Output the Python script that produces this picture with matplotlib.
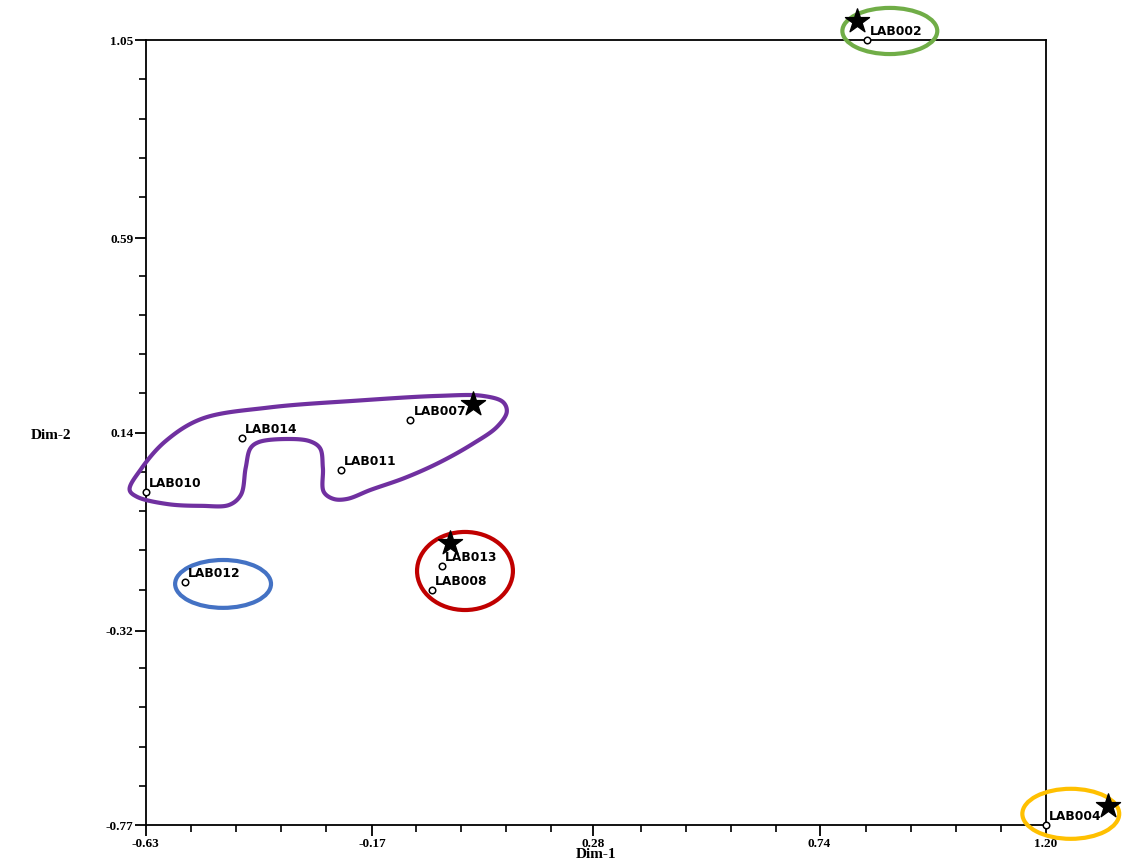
import numpy as np
import matplotlib
matplotlib.use("Agg")
import matplotlib.pyplot as plt
from matplotlib.patches import Ellipse, Polygon
from matplotlib.ticker import FixedLocator

# Sample coordinates on the first two dimensions
labels = ["LAB002", "LAB004", "LAB007", "LAB014", "LAB011", "LAB010",
          "LAB013", "LAB008", "LAB012"]
dim1 = [0.836, 1.200, -0.093, -0.435, -0.234, -0.630, -0.028, -0.049, -0.551]
dim2 = [1.050, -0.770, 0.169, 0.127, 0.053, 0.002, -0.169, -0.225, -0.206]

# Cluster representatives (stars)
star_x = [0.816, 0.035, -0.012, 1.326]
star_y = [1.094, 0.206, -0.116, -0.726]

# Elliptical cluster outlines: (cx, cy, width, height, colour)
clusters = [
    (0.883, 1.071, 0.193, 0.107, "#70AD47"),
    (1.251, -0.744, 0.197, 0.116, "#FFC000"),
    (-0.473, -0.211, 0.195, 0.111, "#4472C4"),
    (0.019, -0.181, 0.195, 0.181, "#C00000"),
]

# Free-form outline of the large cluster
hull_x = [-0.663, -0.640, -0.590, -0.516, -0.380, -0.200, -0.034,
          0.055, 0.096, 0.104, 0.084, 0.035, -0.034, -0.103, -0.173,
          -0.221, -0.248, -0.268, -0.270, -0.276, -0.297, -0.345, -0.400,
          -0.417, -0.427, -0.437, -0.461, -0.516, -0.585, -0.648]
hull_y = [0.007, 0.055, 0.120, 0.172, 0.198, 0.214, 0.225,
          0.225, 0.211, 0.188, 0.153, 0.114, 0.070, 0.035, 0.007,
          -0.014, -0.014, 0.002, 0.058, 0.104, 0.120, 0.125, 0.118,
          0.104, 0.058, -0.005, -0.028, -0.030, -0.026, -0.009]

x_major = [-0.63, -0.17, 0.28, 0.74, 1.20]
y_major = [-0.77, -0.32, 0.14, 0.59, 1.05]


def centripetal_closed(xs, ys, n=24, alpha=0.5):
    pts = np.column_stack([xs, ys])
    m = len(pts)
    out = []
    for i in range(m):
        p0, p1, p2, p3 = (pts[(i - 1) % m], pts[i],
                          pts[(i + 1) % m], pts[(i + 2) % m])
        t0 = 0.0
        t1 = t0 + np.linalg.norm(p1 - p0) ** alpha
        t2 = t1 + np.linalg.norm(p2 - p1) ** alpha
        t3 = t2 + np.linalg.norm(p3 - p2) ** alpha
        t = np.linspace(t1, t2, n, endpoint=False)[:, None]
        a1 = (t1 - t) / (t1 - t0) * p0 + (t - t0) / (t1 - t0) * p1
        a2 = (t2 - t) / (t2 - t1) * p1 + (t - t1) / (t2 - t1) * p2
        a3 = (t3 - t) / (t3 - t2) * p2 + (t - t2) / (t3 - t2) * p3
        b1 = (t2 - t) / (t2 - t0) * a1 + (t - t0) / (t2 - t0) * a2
        b2 = (t3 - t) / (t3 - t1) * a2 + (t - t1) / (t3 - t1) * a3
        out.append((t2 - t) / (t2 - t1) * b1 + (t - t1) / (t2 - t1) * b2)
    return np.vstack(out)


fig = plt.figure(figsize=(11.22, 8.63), dpi=100)
ax = fig.add_axes([0.130, 0.044, 0.802, 0.9096])
ax.set_xlim(x_major[0], x_major[-1])
ax.set_ylim(y_major[0], y_major[-1])

for sp in ax.spines.values():
    sp.set_linewidth(1.3)

serif = "Liberation Serif"
x_minor = [v for k, v in enumerate(np.linspace(x_major[0], x_major[-1], 21))
           if k % 5]
y_minor = [v for k, v in enumerate(np.linspace(y_major[0], y_major[-1], 21))
           if k % 5]
ax.xaxis.set_major_locator(FixedLocator(x_major))
ax.yaxis.set_major_locator(FixedLocator(y_major))
ax.xaxis.set_minor_locator(FixedLocator(x_minor))
ax.yaxis.set_minor_locator(FixedLocator(y_minor))
ax.set_xticklabels([f"{v:.2f}" for v in x_major])
ax.set_yticklabels([f"{v:.2f}" for v in y_major])
ax.tick_params(which="major", direction="out", length=8, width=1.3,
               labelsize=9.5, pad=1)
ax.tick_params(which="minor", direction="out", length=5, width=1.2)
for lab in ax.get_xticklabels() + ax.get_yticklabels():
    lab.set_fontfamily(serif)
    lab.set_fontweight("bold")

ax.set_xlabel("Dim-1", fontfamily=serif, fontweight="bold", fontsize=11,
              labelpad=-1)
fig.text(0.027, 0.495, "Dim-2", fontfamily=serif, fontweight="bold",
         fontsize=11, ha="left", va="center")

# cluster outlines
for cx, cy, w, h, c in clusters:
    ax.add_patch(Ellipse((cx, cy), w, h, fill=False, edgecolor=c, lw=3,
                         clip_on=False, zorder=3))
curve = centripetal_closed(hull_x, hull_y)
ax.add_patch(Polygon(curve, closed=True, fill=False, edgecolor="#7030A0",
                     lw=3, clip_on=False, zorder=3, joinstyle="round"))

# samples
ax.scatter(dim1, dim2, s=22, facecolor="white", edgecolor="black", lw=1.1,
           zorder=5, clip_on=False)
for lx, ly, t in zip(dim1, dim2, labels):
    ax.annotate(t, (lx, ly), xytext=(2.5, 1.5), textcoords="offset points",
                ha="left", va="bottom", fontsize=8.8, fontweight="bold",
                fontfamily="DejaVu Sans", zorder=6, annotation_clip=False)

ax.scatter(star_x, star_y, marker="*", s=330, color="black", zorder=7,
           clip_on=False)

fig.savefig("out.png", dpi=100)
